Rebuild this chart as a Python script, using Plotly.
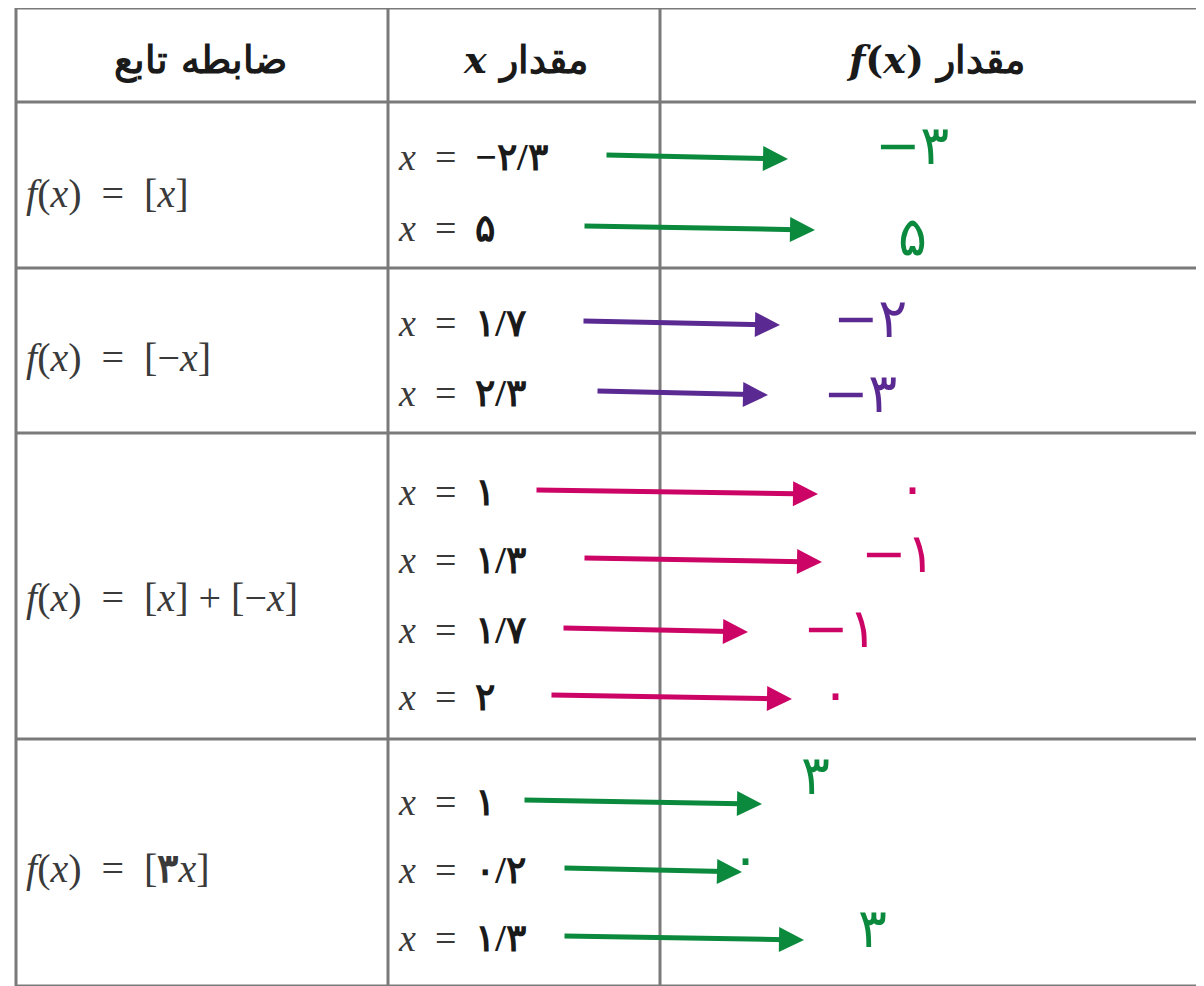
import plotly.graph_objects as go

# table content
headers = ["ضابطه تابع", "<i>x</i> مقدار", "<i>f</i>(<i>x</i>) مقدار"]
rules = ["<i>f</i>(<i>x</i>)  =  [<i>x</i>]",
         "<i>f</i>(<i>x</i>)  =  [−<i>x</i>]",
         "<i>f</i>(<i>x</i>)  =  [<i>x</i>] + [−<i>x</i>]",
         "<i>f</i>(<i>x</i>)  =  [<b>۳</b><i>x</i>]"]
x_values = [["−۲/۳", "۵"],
            ["۱/۷", "۲/۳"],
            ["۱", "۱/۳", "۱/۷", "۲"],
            ["۱", "۰/۲", "۱/۳"]]
answers = [["−۳", "۵"],
           ["−۲", "−۳"],
           ["۰", "−۱", "−۱", "۰"],
           ["۳", "۰", "۳"]]
ink = ["#0b8a3e", "#5a2a92", "#cc0466", "#0b8a3e"]

# layout of the page (pixels, screen coords)
W, H = 1204, 986
OFF = 8  # page body margin
col_x = [16, 388, 660]
row_y = [8, 102, 268, 433, 739, 986]
rule_y = [193, 357, 597, 868]
x_val_y = [[157, 228], [323, 393], [492, 560, 630, 697], [802, 870, 938]]
arrow_tail = [[605, 583], [582, 596], [535, 583, 562, 550], [523, 563, 563]]
arrow_head = [[788, 815], [780, 768], [818, 822, 748, 792], [762, 742, 804]]
ans_pos = [[(912, 145), (912, 236)], [(870, 318), (860, 393)],
           [(912, 487), (898, 553), (840, 628), (835, 693)],
           [(815, 775), (745, 858), (872, 928)]]

fig = go.Figure()
line_col = "#7a7a7a"

shapes = []
for y in row_y:
    shapes.append(dict(type="line", x0=col_x[0], x1=W + OFF, y0=y, y1=y, line=dict(color=line_col, width=3)))
for x in col_x:
    shapes.append(dict(type="line", x0=x, x1=x, y0=row_y[0], y1=row_y[-1], line=dict(color=line_col, width=3)))

ann = []
head_x = [200, 525, 935]
for hx, t in zip(head_x, headers):
    ann.append(dict(x=hx, y=60, text="<b>" + t + "</b>", showarrow=False,
                    font=dict(family="DejaVu Serif", size=38, color="#1a1a1a")))

for i, rule in enumerate(rules):
    ann.append(dict(x=24, y=rule_y[i], text=rule, xanchor="left", showarrow=False,
                    font=dict(family="Liberation Serif", size=40, color="#3a3a3a")))
    for j, xv in enumerate(x_values[i]):
        ann.append(dict(x=396, y=x_val_y[i][j], xanchor="left", showarrow=False,
                        text="<i>x</i>  =  <span style='color:#1a1a1a'><b>" + xv + "</b></span>",
                        font=dict(family="Liberation Serif", size=38, color="#3a3a3a")))
        ann.append(dict(x=arrow_head[i][j], y=x_val_y[i][j] + 2, ax=arrow_tail[i][j], ay=x_val_y[i][j] - 2,
                        axref="x", ayref="y", xref="x", yref="y", text="", showarrow=True,
                        arrowhead=2, arrowsize=1.0, arrowwidth=5, arrowcolor=ink[i], standoff=0))
        ax_, ay_ = ans_pos[i][j]
        ann.append(dict(x=ax_, y=ay_, text=answers[i][j], showarrow=False,
                        font=dict(family="DejaVu Sans", size=54, color=ink[i])))

fig.update_layout(shapes=shapes, annotations=ann, width=W, height=H,
                  margin=dict(l=0, r=0, t=0, b=0),
                  paper_bgcolor="white", plot_bgcolor="white", showlegend=False)
# shift ranges so that data coordinates equal screen pixels
fig.update_xaxes(range=[OFF, W + OFF], visible=False, fixedrange=True)
fig.update_yaxes(range=[H + OFF, OFF], visible=False, fixedrange=True)

fig.write_html("out.html")
